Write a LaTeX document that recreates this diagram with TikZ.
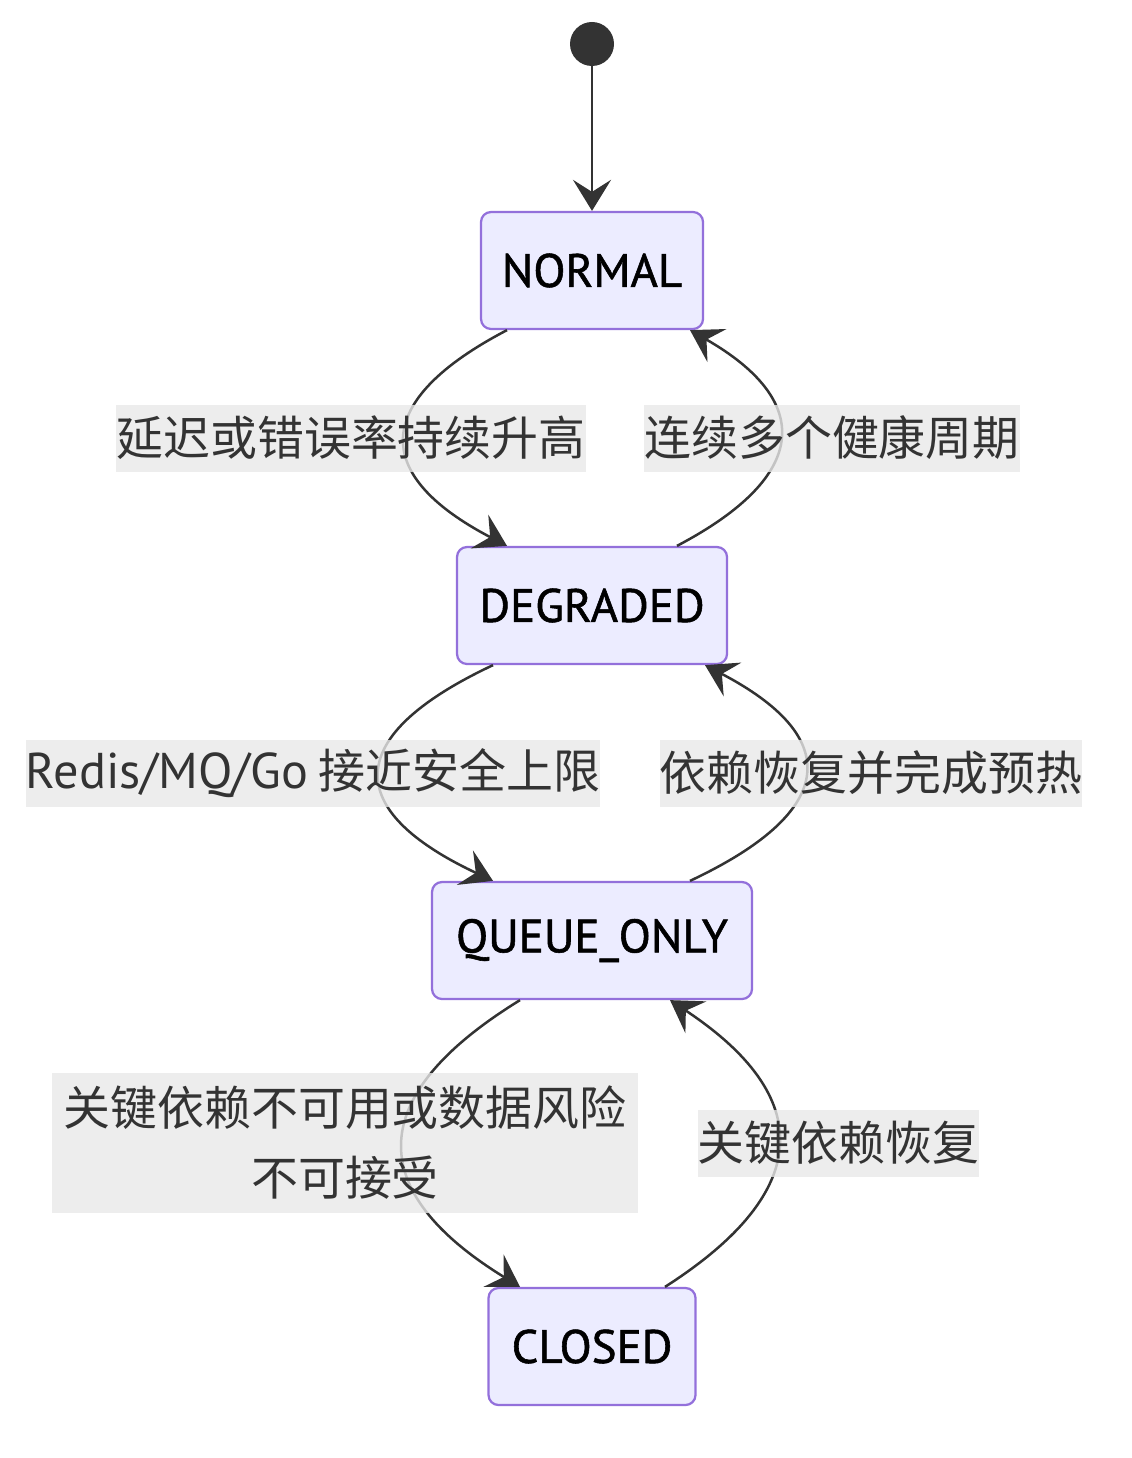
\documentclass[tikz,border=0pt]{standalone}
\usepackage{fontspec}
\setmainfont{PT Sans}
\newfontfamily\statefont[FakeBold=1.2]{PT Sans}
\newfontfamily\cjk{Noto Sans CJK SC}
\usetikzlibrary{positioning, arrows.meta}
\definecolor{stfill}{HTML}{ECECFF}
\definecolor{stline}{HTML}{9370DB}
\definecolor{edgecol}{HTML}{333333}
\definecolor{lblfill}{HTML}{E8E8E8}

\begin{document}
\begin{tikzpicture}[
    snode/.style={draw=stline, fill=stfill, line width=0.045cm, rounded corners=0.2cm, minimum height=2.34cm, inner sep=0pt, font=\statefont\fontsize{26.7}{32}\selectfont},
    elabel/.style={fill=lblfill, fill opacity=0.8, text opacity=1, text=edgecol, inner xsep=0pt, inner ysep=0pt, minimum height=1.34cm, align=center, font=\cjk\fontsize{26.7}{39.8}\selectfont},
    trans/.style={draw=edgecol, line width=0.05cm, -{Stealth[length=0.62cm, width=0.76cm, inset=0.24cm]}}
]
\useasboundingbox (0,0) rectangle (22.62,-29.16);
\node[circle, fill=edgecol, minimum size=0.88cm, inner sep=0pt] (start) at (11.84,-0.88) {};
\node[snode, minimum width=4.44cm] (normal) at (11.84,-5.41) {NORMAL};
\node[snode, minimum width=5.4cm] (degraded) at (11.84,-12.11) {DEGRADED};
\node[snode, minimum width=6.4cm] (queue) at (11.84,-18.81) {QUEUE\_ONLY};
\node[snode, minimum width=4.14cm] (closed) at (11.84,-26.93) {CLOSED};

\draw[trans] (start) -- (normal);
\draw[trans] ([xshift=-1.7cm]normal.south) .. controls +(-2.72,-1.42) and +(-2.72,1.42) .. ([xshift=-1.7cm]degraded.north);
\draw[trans] ([xshift=1.7cm]degraded.north) .. controls +(2.7,1.42) and +(2.44,-1.4) .. ([xshift=1.96cm]normal.south);
\draw[trans] ([xshift=-1.98cm]degraded.south) .. controls +(-3.02,-1.42) and +(-3.02,1.42) .. ([xshift=-1.98cm]queue.north);
\draw[trans] ([xshift=1.96cm]queue.north) .. controls +(3.02,1.42) and +(2.72,-1.42) .. ([xshift=2.26cm]degraded.south);
\draw[trans] ([xshift=-1.44cm]queue.south) .. controls +(-3.12,-1.92) and +(-3.12,1.92) .. ([xshift=-1.44cm]closed.north);
\draw[trans] ([xshift=1.46cm]closed.north) .. controls +(3.0,1.92) and +(2.9,-1.92) .. ([xshift=1.56cm]queue.south);

\node[elabel] (l_up) at (7.02,-8.76) {延迟或错误率持续升高};
\node[elabel] (l_heal) at (16.64,-8.76) {连续多个健康周期};
\node[elabel] (l_limit) at (6.26,-15.46) {{\rmfamily\fontsize{28.6}{39.8}\selectfont Redis/MQ/Go} 接近安全上限};
\node[elabel] (l_warm) at (17.42,-15.46) {依赖恢复并完成预热};
\node[elabel, minimum width=11.72cm, minimum height=2.8cm] (l_risk) at (6.9,-22.86) {关键依赖不可用或数据风险\\不可接受};
\node[elabel] (l_back) at (16.77,-22.86) {关键依赖恢复};
\end{tikzpicture}
\end{document}
